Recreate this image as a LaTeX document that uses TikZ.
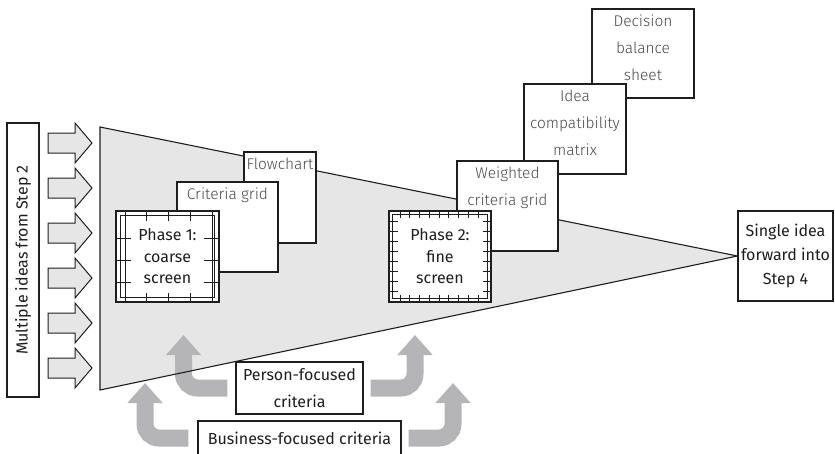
\documentclass[tikz,border=0pt]{standalone}
\usepackage{fontspec}
\setmainfont{Fira Sans Light}[BoldFont={Fira Sans}]
\usetikzlibrary{arrows.meta}

\definecolor{ink}{HTML}{1E1E1E}
\definecolor{softink}{HTML}{4A4A4A}
\definecolor{funnelgrey}{HTML}{E6E6E6}
\definecolor{flowgrey}{HTML}{B5B5B7}

\pgfdeclarelayer{funnelfill}
\pgfdeclarelayer{criteriaflow}
\pgfdeclarelayer{funneledge}
\pgfsetlayers{funnelfill,criteriaflow,funneledge,main}

\tikzset{
  box/.style={draw=ink, line width=1.1pt, fill=white, inner sep=0pt, rectangle},
  lighttext/.style={font=\fontsize{15.5}{27}\selectfont, text=softink, align=center},
  boldtext/.style={font=\bfseries\fontsize{16}{#1}\selectfont, text=ink, align=center},
  boldtext/.default=22,
  toolbox/.style={box, label={[lighttext, anchor=north, inner sep=0pt, yshift=-6pt]north:#1}},
  blockarrow/.style={draw=ink, line width=1pt, fill=funnelgrey, line join=miter},
  criteriaflow/.style={draw=flowgrey, line width=17pt, rounded corners=14pt,
    -{Triangle[width=34pt,length=20pt]}},
  gridline/.style={draw=ink, line width=0.8pt},
}

\begin{document}
\begin{tikzpicture}[x=1pt,y=-1pt]
\useasboundingbox (0,0) rectangle (835,453);

% incoming ideas
\node[box, rotate=90, minimum width=274pt, minimum height=32pt, boldtext] (ideas) at (23,260) {Multiple ideas from Step 2};
\foreach \i in {0,...,5} {
  \pgfmathsetmacro\yc{143+45*\i}
  \draw[blockarrow] (48,\yc-10) -- (75,\yc-10) -- (75,\yc-20) -- (92,\yc)
    -- (75,\yc+20) -- (75,\yc+10) -- (48,\yc+10) -- cycle;
}

% outcome
\node[box, boldtext=24, minimum width=95pt, minimum height=90pt] (single) at (785.5,256) {Single idea\\forward into\\Step 4};

% phase 1 tools
\node[toolbox={Flowchart}, minimum width=72pt, minimum height=91pt] (flow) at (280,197.5) {};
\node[toolbox={Criteria grid}, minimum width=101pt, minimum height=90pt] (crit) at (227.5,227) {};

% phase 1: coarse screen
\node[box, minimum width=103pt, minimum height=91pt] (phase1) at (167.5,256.5) {};
\foreach \x in {125,146.75,168.5,190.25,212} \draw[gridline] (\x,211) -- (\x,302);
\foreach \y in {238,260,282} \draw[gridline] (116,\y) -- (219,\y);
\fill[white] (131,220.5) rectangle (204,292.5);
\draw[gridline] (120.5,215.5) rectangle (214.5,297.5);
\node[boldtext=21.5] (phase1label) at (phase1.center) {Phase 1:\\coarse\\screen};

% phase 2 tools
\node[toolbox={Decision\\balance\\sheet}, minimum width=102pt, minimum height=89pt] (dec) at (643,53.5) {};
\node[toolbox={Idea\\compatibility\\matrix}, minimum width=102pt, minimum height=90pt] (idea) at (575,129) {};
\node[toolbox={Weighted\\criteria grid}, minimum width=101pt, minimum height=90pt] (wcrit) at (507.5,206) {};

% phase 2: fine screen
\node[box, minimum width=102pt, minimum height=91pt] (phase2) at (440,256.5) {};
\foreach \k in {0,...,8} \draw[gridline] (400+9.75*\k,211) -- (400+9.75*\k,302);
\foreach \k in {0,...,7} \draw[gridline] (389,221+10*\k) -- (491,221+10*\k);
\fill[white] (397.5,218) rectangle (482.5,295);
\draw[gridline] (392.5,214.5) rectangle (487.5,298.5);
\node[boldtext=21.5] (phase2label) at (phase2.center) {Phase 2:\\fine\\screen};

% criteria sources
\node[box, boldtext=27, minimum width=127pt, minimum height=52pt] (person) at (299.5,388) {Person-focused\\criteria};
\node[box, boldtext, minimum width=203pt, minimum height=34pt] (business) at (299.5,438) {Business-focused criteria};

\coordinate (p1up) at (183.5,335);
\coordinate (p2up) at (415,335);
\coordinate (b1up) at (145,383);
\coordinate (b2up) at (453,383);

\begin{pgfonlayer}{criteriaflow}
  \draw[criteriaflow] ([xshift=-8pt]person.west) -| (p1up);
  \draw[criteriaflow] ([xshift=7pt]person.east) -| (p2up);
  \draw[criteriaflow] ([xshift=-9pt]business.west) -| (b1up);
  \draw[criteriaflow] ([xshift=7pt]business.east) -| (b2up);
\end{pgfonlayer}

% the narrowing funnel
\begin{pgfonlayer}{funnelfill}
  \fill[funnelgrey] (100,127) -- (single.west) -- (100,390) -- cycle;
\end{pgfonlayer}
\begin{pgfonlayer}{funneledge}
  \draw[ink, line width=1.1pt, line join=miter] (100,127) -- (single.west) -- (100,390) -- cycle;
\end{pgfonlayer}
\end{tikzpicture}
\end{document}
